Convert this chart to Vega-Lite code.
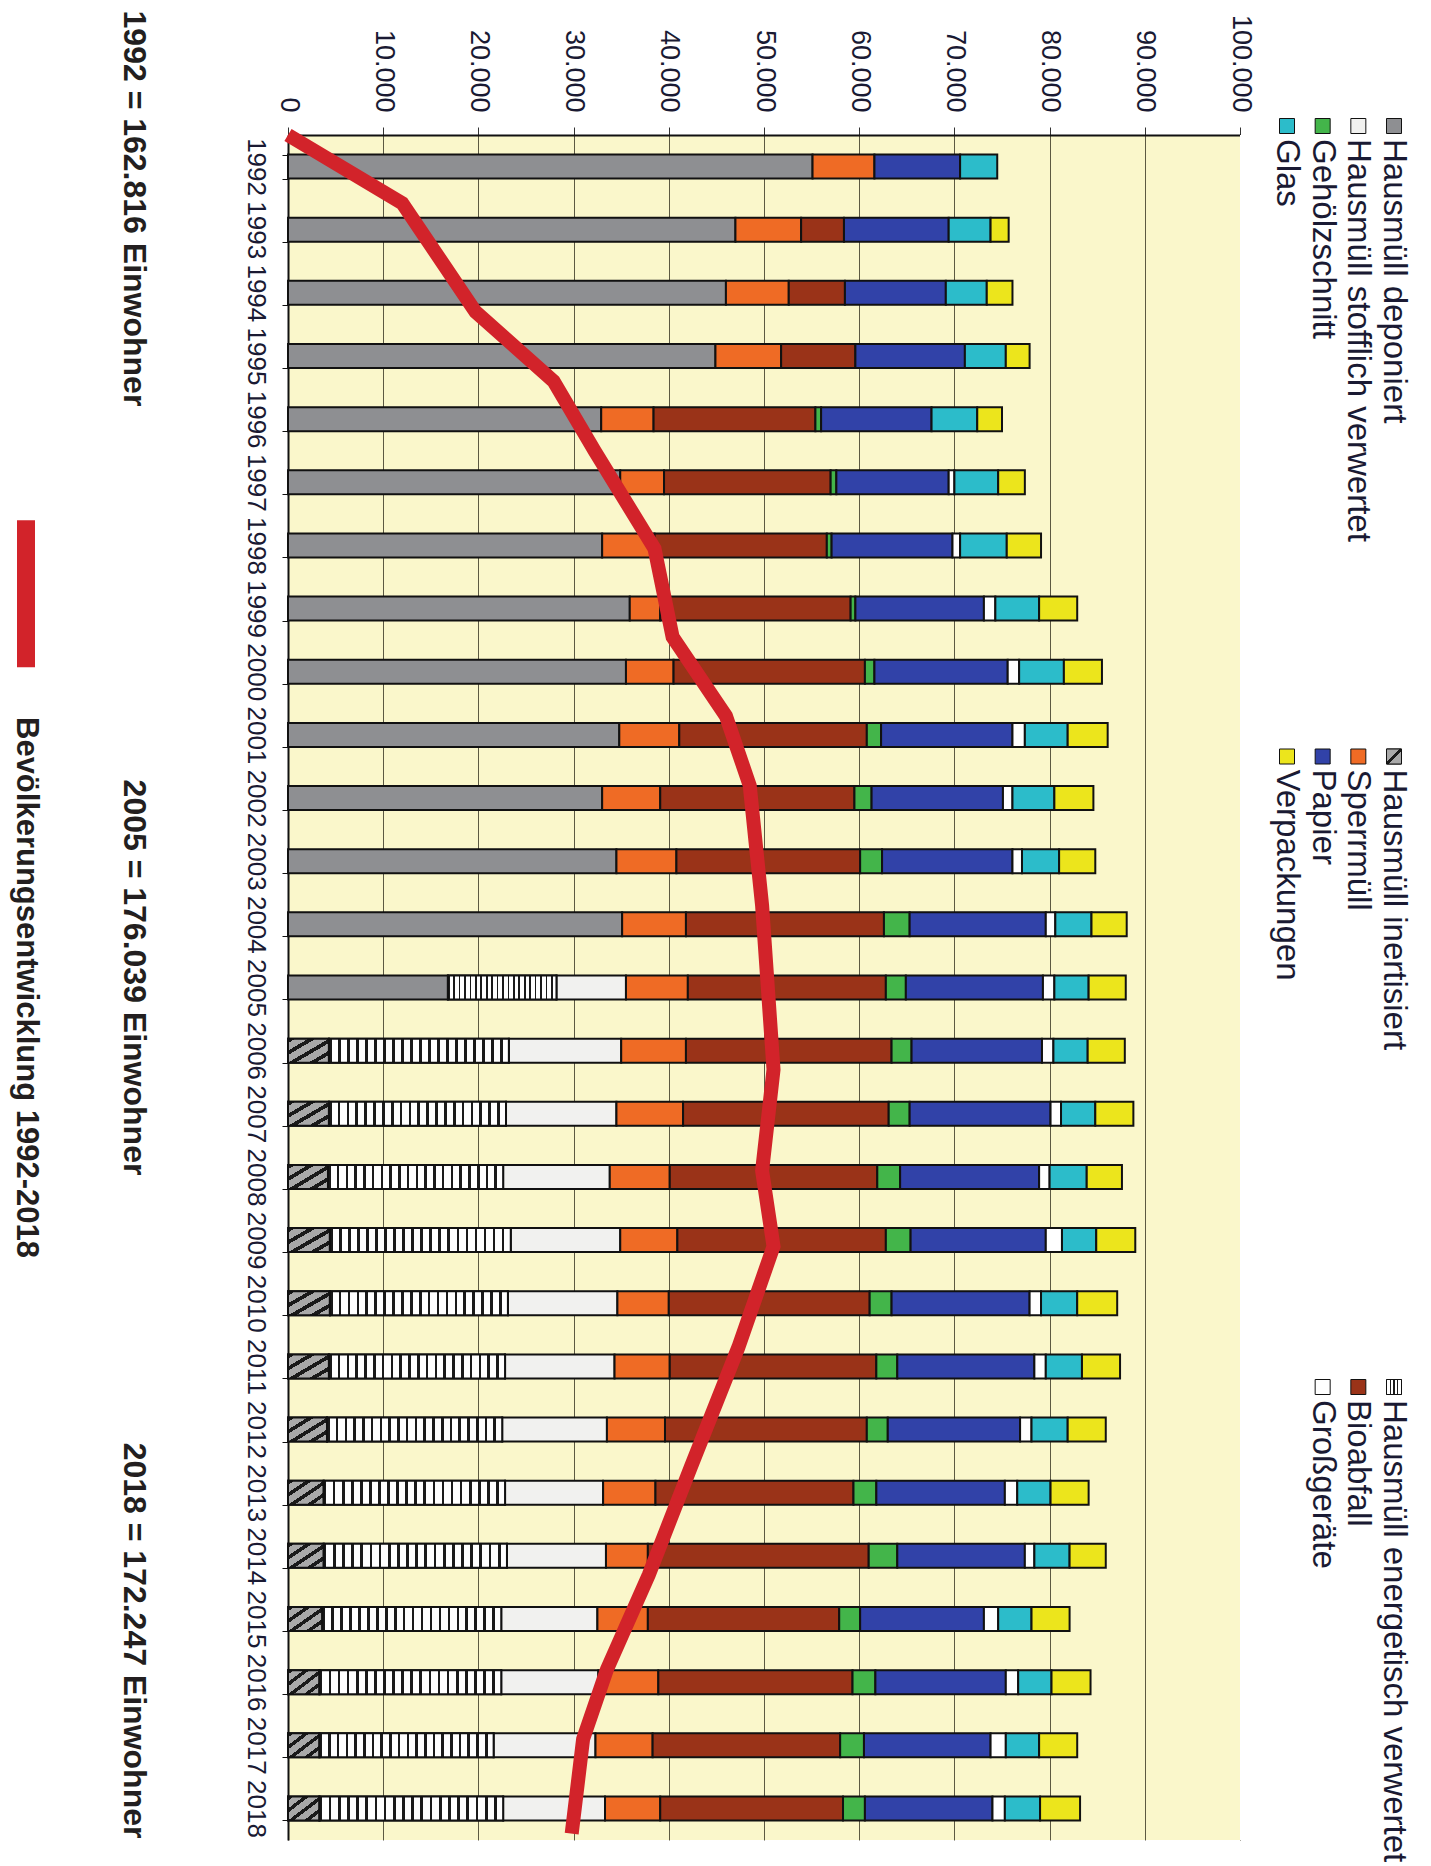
{
  "$schema": "https://vega.github.io/schema/vega-lite/v6.json",
  "padding": {"left": 0, "top": 10, "right": 0, "bottom": 0},
  "background": "white",
  "config": {"font": "Liberation Sans", "view": {"stroke": null}},
  "bounds": "flush",
  "spacing": 0,
  "resolve": {"scale": {"x": "independent", "y": "independent", "color": "shared"}},
  "datasets": {
    "abfall": [
      {"Jahr": 1992, "Hausmüll deponiert": 55100, "Sperrmüll": 6500, "Papier": 9000, "Glas": 3900},
      {"Jahr": 1993, "Hausmüll deponiert": 47000, "Sperrmüll": 6900, "Bioabfall": 4500, "Papier": 11000, "Glas": 4400, "Verpackungen": 1900},
      {"Jahr": 1994, "Hausmüll deponiert": 46000, "Sperrmüll": 6600, "Bioabfall": 5900, "Papier": 10600, "Glas": 4300, "Verpackungen": 2700},
      {"Jahr": 1995, "Hausmüll deponiert": 44900, "Sperrmüll": 6900, "Bioabfall": 7800, "Papier": 11500, "Glas": 4300, "Verpackungen": 2500},
      {"Jahr": 1996, "Hausmüll deponiert": 32900, "Sperrmüll": 5500, "Bioabfall": 17000, "Gehölzschnitt": 600, "Papier": 11600, "Glas": 4800, "Verpackungen": 2600},
      {"Jahr": 1997, "Hausmüll deponiert": 34900, "Sperrmüll": 4600, "Bioabfall": 17500, "Gehölzschnitt": 600, "Papier": 11800, "Großgeräte": 600, "Glas": 4600, "Verpackungen": 2800},
      {"Jahr": 1998, "Hausmüll deponiert": 33000, "Sperrmüll": 5500, "Bioabfall": 18100, "Gehölzschnitt": 500, "Papier": 12700, "Großgeräte": 800, "Glas": 4900, "Verpackungen": 3600},
      {"Jahr": 1999, "Hausmüll deponiert": 35900, "Sperrmüll": 3200, "Bioabfall": 20000, "Gehölzschnitt": 500, "Papier": 13500, "Großgeräte": 1200, "Glas": 4600, "Verpackungen": 4000},
      {"Jahr": 2000, "Hausmüll deponiert": 35500, "Sperrmüll": 5000, "Bioabfall": 20100, "Gehölzschnitt": 1000, "Papier": 14000, "Großgeräte": 1200, "Glas": 4700, "Verpackungen": 4000},
      {"Jahr": 2001, "Hausmüll deponiert": 34800, "Sperrmüll": 6300, "Bioabfall": 19700, "Gehölzschnitt": 1500, "Papier": 13800, "Großgeräte": 1300, "Glas": 4500, "Verpackungen": 4200},
      {"Jahr": 2002, "Hausmüll deponiert": 33000, "Sperrmüll": 6100, "Bioabfall": 20400, "Gehölzschnitt": 1800, "Papier": 13800, "Großgeräte": 1000, "Glas": 4400, "Verpackungen": 4100},
      {"Jahr": 2003, "Hausmüll deponiert": 34500, "Sperrmüll": 6300, "Bioabfall": 19300, "Gehölzschnitt": 2300, "Papier": 13700, "Großgeräte": 1000, "Glas": 3900, "Verpackungen": 3800},
      {"Jahr": 2004, "Hausmüll deponiert": 35100, "Sperrmüll": 6700, "Bioabfall": 20800, "Gehölzschnitt": 2700, "Papier": 14300, "Großgeräte": 1000, "Glas": 3800, "Verpackungen": 3700},
      {"Jahr": 2005, "Hausmüll deponiert": 16800, "Hausmüll energetisch verwertet": 11400, "Hausmüll stofflich verwertet": 7300, "Sperrmüll": 6500, "Bioabfall": 20800, "Gehölzschnitt": 2100, "Papier": 14400, "Großgeräte": 1200, "Glas": 3600, "Verpackungen": 3900},
      {"Jahr": 2006, "Hausmüll inertisiert": 4300, "Hausmüll energetisch verwertet": 18900, "Hausmüll stofflich verwertet": 11800, "Sperrmüll": 6800, "Bioabfall": 21600, "Gehölzschnitt": 2100, "Papier": 13700, "Großgeräte": 1200, "Glas": 3600, "Verpackungen": 3900},
      {"Jahr": 2007, "Hausmüll inertisiert": 4300, "Hausmüll energetisch verwertet": 18600, "Hausmüll stofflich verwertet": 11600, "Sperrmüll": 7000, "Bioabfall": 21600, "Gehölzschnitt": 2200, "Papier": 14800, "Großgeräte": 1100, "Glas": 3600, "Verpackungen": 4000},
      {"Jahr": 2008, "Hausmüll inertisiert": 4200, "Hausmüll energetisch verwertet": 18400, "Hausmüll stofflich verwertet": 11200, "Sperrmüll": 6300, "Bioabfall": 21800, "Gehölzschnitt": 2400, "Papier": 14600, "Großgeräte": 1100, "Glas": 3900, "Verpackungen": 3700},
      {"Jahr": 2009, "Hausmüll inertisiert": 4400, "Hausmüll energetisch verwertet": 19000, "Hausmüll stofflich verwertet": 11500, "Sperrmüll": 6000, "Bioabfall": 21900, "Gehölzschnitt": 2600, "Papier": 14200, "Großgeräte": 1700, "Glas": 3600, "Verpackungen": 4100},
      {"Jahr": 2010, "Hausmüll inertisiert": 4400, "Hausmüll energetisch verwertet": 18700, "Hausmüll stofflich verwertet": 11500, "Sperrmüll": 5400, "Bioabfall": 21100, "Gehölzschnitt": 2300, "Papier": 14500, "Großgeräte": 1200, "Glas": 3800, "Verpackungen": 4200},
      {"Jahr": 2011, "Hausmüll inertisiert": 4300, "Hausmüll energetisch verwertet": 18500, "Hausmüll stofflich verwertet": 11500, "Sperrmüll": 5800, "Bioabfall": 21700, "Gehölzschnitt": 2200, "Papier": 14400, "Großgeräte": 1200, "Glas": 3800, "Verpackungen": 4000},
      {"Jahr": 2012, "Hausmüll inertisiert": 4100, "Hausmüll energetisch verwertet": 18400, "Hausmüll stofflich verwertet": 11000, "Sperrmüll": 6100, "Bioabfall": 21200, "Gehölzschnitt": 2200, "Papier": 13900, "Großgeräte": 1200, "Glas": 3800, "Verpackungen": 4000},
      {"Jahr": 2013, "Hausmüll inertisiert": 3750, "Hausmüll energetisch verwertet": 19050, "Hausmüll stofflich verwertet": 10300, "Sperrmüll": 5500, "Bioabfall": 20800, "Gehölzschnitt": 2400, "Papier": 13500, "Großgeräte": 1300, "Glas": 3500, "Verpackungen": 4000},
      {"Jahr": 2014, "Hausmüll inertisiert": 3750, "Hausmüll energetisch verwertet": 19250, "Hausmüll stofflich verwertet": 10400, "Sperrmüll": 4400, "Bioabfall": 23200, "Gehölzschnitt": 3000, "Papier": 13400, "Großgeräte": 1000, "Glas": 3700, "Verpackungen": 3800},
      {"Jahr": 2015, "Hausmüll inertisiert": 3600, "Hausmüll energetisch verwertet": 18800, "Hausmüll stofflich verwertet": 10100, "Sperrmüll": 5300, "Bioabfall": 20100, "Gehölzschnitt": 2200, "Papier": 13000, "Großgeräte": 1500, "Glas": 3500, "Verpackungen": 4000},
      {"Jahr": 2016, "Hausmüll inertisiert": 3300, "Hausmüll energetisch verwertet": 19100, "Hausmüll stofflich verwertet": 10200, "Sperrmüll": 6300, "Bioabfall": 20400, "Gehölzschnitt": 2400, "Papier": 13700, "Großgeräte": 1300, "Glas": 3500, "Verpackungen": 4100},
      {"Jahr": 2017, "Hausmüll inertisiert": 3300, "Hausmüll energetisch verwertet": 18300, "Hausmüll stofflich verwertet": 10700, "Sperrmüll": 6000, "Bioabfall": 19700, "Gehölzschnitt": 2500, "Papier": 13300, "Großgeräte": 1600, "Glas": 3500, "Verpackungen": 4000},
      {"Jahr": 2018, "Hausmüll inertisiert": 3300, "Hausmüll energetisch verwertet": 19300, "Hausmüll stofflich verwertet": 10700, "Sperrmüll": 5800, "Bioabfall": 19200, "Gehölzschnitt": 2300, "Papier": 13400, "Großgeräte": 1300, "Glas": 3700, "Verpackungen": 4200}
    ],
    "legende": [
      {"Nr": 1, "Fraktion": "Hausmüll deponiert", "Zeile": 1, "Spalte": 1},
      {"Nr": 2, "Fraktion": "Hausmüll inertisiert", "Zeile": 1, "Spalte": 2},
      {"Nr": 3, "Fraktion": "Hausmüll energetisch verwertet", "Zeile": 1, "Spalte": 3},
      {"Nr": 4, "Fraktion": "Hausmüll stofflich verwertet", "Zeile": 2, "Spalte": 1},
      {"Nr": 5, "Fraktion": "Sperrmüll", "Zeile": 2, "Spalte": 2},
      {"Nr": 6, "Fraktion": "Bioabfall", "Zeile": 2, "Spalte": 3},
      {"Nr": 7, "Fraktion": "Gehölzschnitt", "Zeile": 3, "Spalte": 1},
      {"Nr": 8, "Fraktion": "Papier", "Zeile": 3, "Spalte": 2},
      {"Nr": 9, "Fraktion": "Großgeräte", "Zeile": 3, "Spalte": 3},
      {"Nr": 10, "Fraktion": "Glas", "Zeile": 4, "Spalte": 1},
      {"Nr": 11, "Fraktion": "Verpackungen", "Zeile": 4, "Spalte": 2}
    ],
    "bevoelkerung": [
      {"Jahr": 1991.5, "Wert": 0},
      {"Jahr": 1992.58, "Wert": 12000},
      {"Jahr": 1994.3, "Wert": 19700},
      {"Jahr": 1995.4, "Wert": 27900},
      {"Jahr": 1996.5, "Wert": 32200},
      {"Jahr": 1998.05, "Wert": 38500},
      {"Jahr": 1999.45, "Wert": 40400},
      {"Jahr": 2000.7, "Wert": 46000},
      {"Jahr": 2001.8, "Wert": 48500},
      {"Jahr": 2003.7, "Wert": 49800},
      {"Jahr": 2005.0, "Wert": 50400},
      {"Jahr": 2006.3, "Wert": 51000},
      {"Jahr": 2007.9, "Wert": 49800},
      {"Jahr": 2009.1, "Wert": 51000},
      {"Jahr": 2010.7, "Wert": 47300},
      {"Jahr": 2012.6, "Wert": 42300},
      {"Jahr": 2014.3, "Wert": 37900},
      {"Jahr": 2015.8, "Wert": 33500},
      {"Jahr": 2016.9, "Wert": 31000},
      {"Jahr": 2018.4, "Wert": 29800}
    ],
    "einwohner": [
      {"Jahr": 1992, "Text": "1992 = 162.816 Einwohner"},
      {"Jahr": 2005, "Text": "2005 = 176.039 Einwohner"},
      {"Jahr": 2018, "Text": "2018 = 172.247 Einwohner"}
    ]
  },
  "hconcat": [
    {
      "width": 52,
      "height": 1705,
      "view": {"fill": "white", "stroke": null},
      "data": {"values": [{"Bezeichnung": "Bevölkerungsentwicklung 1992-2018"}]},
      "layer": [
        {
          "mark": {"type": "rule", "color": "#D2232A", "strokeWidth": 18, "strokeCap": "butt"},
          "encoding": {
            "y": {"datum": 1997.6, "type": "quantitative", "scale": {"domain": [1991.5, 2018.5], "reverse": true, "nice": false, "zero": false}, "axis": null},
            "y2": {"datum": 1999.93}
          }
        },
        {
          "mark": {"type": "text", "angle": 90, "align": "center", "baseline": "middle", "fontSize": 31, "fontWeight": "bold", "color": "#231f20"},
          "encoding": {
            "y": {"datum": 2005, "type": "quantitative"},
            "text": {"field": "Bezeichnung"}
          }
        }
      ]
    },
    {
      "width": 236,
      "height": 1705,
      "view": {"fill": "white", "stroke": null},
      "data": {"name": "einwohner"},
      "encoding": {
        "y": {"field": "Jahr", "type": "quantitative", "scale": {"domain": [1991.5, 2018.5], "reverse": true, "nice": false, "zero": false}, "axis": null},
        "text": {"field": "Text"}
      },
      "layer": [
        {
          "transform": [{"filter": "datum.Jahr == 1992"}],
          "mark": {"type": "text", "angle": 90, "align": "left", "baseline": "middle", "dx": -156, "dy": 36, "fontSize": 32, "fontWeight": "bold", "color": "#231f20"}
        },
        {
          "transform": [{"filter": "datum.Jahr == 2005"}],
          "mark": {"type": "text", "angle": 90, "align": "center", "baseline": "middle", "dx": -10, "dy": 36, "fontSize": 32, "fontWeight": "bold", "color": "#231f20"}
        },
        {
          "transform": [{"filter": "datum.Jahr == 2018"}],
          "mark": {"type": "text", "angle": 90, "align": "right", "baseline": "middle", "dx": 30, "dy": 36, "fontSize": 32, "fontWeight": "bold", "color": "#231f20"}
        }
      ]
    },
    {
      "width": 952,
      "height": 1705,
      "view": {"fill": "#FAF7CB", "stroke": null},
      "layer": [
        {
          "data": {"name": "abfall"},
          "transform": [
            {"fold": ["Hausmüll deponiert", "Hausmüll inertisiert", "Hausmüll energetisch verwertet", "Hausmüll stofflich verwertet", "Sperrmüll", "Bioabfall", "Gehölzschnitt", "Papier", "Großgeräte", "Glas", "Verpackungen"], "as": ["Fraktion", "Menge"]},
            {"filter": "datum.Menge > 0"},
            {"lookup": "Fraktion", "from": {"data": {"name": "legende"}, "key": "Fraktion", "fields": ["Nr"]}},
            {"stack": "Menge", "groupby": ["Jahr"], "sort": [{"field": "Nr", "order": "ascending"}], "as": ["Anfang", "Ende"]}
          ],
          "encoding": {
            "y": {
              "field": "Jahr", "type": "ordinal",
              "scale": {"paddingInner": 0.62, "paddingOuter": 0.31},
              "axis": {"orient": "left", "title": null, "labelAngle": 90, "labelAlign": "center", "labelBaseline": "top", "labelFontSize": 26, "labelColor": "#1a1a33", "labelPadding": 14, "labelOverlap": false, "tickBand": "extent", "tickSize": 6, "tickColor": "#111111", "domainColor": "#111111", "domainWidth": 2, "grid": false}
            },
            "x": {
              "field": "Anfang", "type": "quantitative",
              "scale": {"domain": [0, 100000], "nice": false},
              "axis": {"orient": "top", "title": null, "values": [0, 10000, 20000, 30000, 40000, 50000, 60000, 70000, 80000, 90000, 100000], "labelAngle": 90, "labelAlign": "right", "labelBaseline": "middle", "labelFontSize": 27, "labelColor": "#1a1a33", "labelPadding": 15, "labelFlush": false, "labelOverlap": false, "labelExpr": "replace(format(datum.value, ','), ',', '.')", "tickSize": 8, "tickColor": "#333333", "domainColor": "#111111", "domainWidth": 2, "grid": true, "gridColor": "#3f3d2a", "gridWidth": 1, "gridOpacity": 0.85}
            },
            "x2": {"field": "Ende"}
          },
          "layer": [
            {
              "mark": {"type": "bar", "stroke": "#111111", "strokeWidth": 2},
              "encoding": {
                "color": {
                  "field": "Fraktion", "type": "nominal", "legend": null,
                  "scale": {
                    "domain": ["Hausmüll deponiert", "Hausmüll inertisiert", "Hausmüll energetisch verwertet", "Hausmüll stofflich verwertet", "Sperrmüll", "Bioabfall", "Gehölzschnitt", "Papier", "Großgeräte", "Glas", "Verpackungen"],
                    "range": ["#8E8F92", "#A9A9A9", "#FFFFFF", "#F1F1EF", "#EF6B25", "#9A3318", "#43B54A", "#3142A8", "#FFFFFF", "#2CBCCA", "#ECE51C"]
                  }
                }
              }
            },
            {
              "transform": [{"filter": "datum.Fraktion == 'Hausmüll inertisiert'"}],
              "mark": {
                "type": "bar", "stroke": "#111111", "strokeWidth": 2,
                "fill": {"gradient": "linear", "x1": 0, "y1": 0, "x2": 1, "y2": 1, "stops": [
                  {"offset": 0, "color": "#1a1a1a"}, {"offset": 0.09, "color": "#1a1a1a"}, {"offset": 0.09, "color": "#a9a9a9"}, {"offset": 0.25, "color": "#a9a9a9"},
                  {"offset": 0.25, "color": "#1a1a1a"}, {"offset": 0.34, "color": "#1a1a1a"}, {"offset": 0.34, "color": "#a9a9a9"}, {"offset": 0.5, "color": "#a9a9a9"},
                  {"offset": 0.5, "color": "#1a1a1a"}, {"offset": 0.59, "color": "#1a1a1a"}, {"offset": 0.59, "color": "#a9a9a9"}, {"offset": 0.75, "color": "#a9a9a9"},
                  {"offset": 0.75, "color": "#1a1a1a"}, {"offset": 0.84, "color": "#1a1a1a"}, {"offset": 0.84, "color": "#a9a9a9"}, {"offset": 1, "color": "#a9a9a9"}
                ]}
              }
            },
            {
              "transform": [{"filter": "datum.Fraktion == 'Hausmüll energetisch verwertet'"}],
              "mark": {
                "type": "bar", "stroke": "#111111", "strokeWidth": 2,
                "fill": {"gradient": "linear", "x1": 0, "y1": 0, "x2": 1, "y2": 0, "stops": [
                  {"offset": 0, "color": "#1a1a1a"}, {"offset": 0.015, "color": "#1a1a1a"}, {"offset": 0.015, "color": "#ffffff"}, {"offset": 0.05, "color": "#ffffff"},
                  {"offset": 0.05, "color": "#1a1a1a"}, {"offset": 0.065, "color": "#1a1a1a"}, {"offset": 0.065, "color": "#ffffff"}, {"offset": 0.1, "color": "#ffffff"},
                  {"offset": 0.1, "color": "#1a1a1a"}, {"offset": 0.115, "color": "#1a1a1a"}, {"offset": 0.115, "color": "#ffffff"}, {"offset": 0.15, "color": "#ffffff"},
                  {"offset": 0.15, "color": "#1a1a1a"}, {"offset": 0.165, "color": "#1a1a1a"}, {"offset": 0.165, "color": "#ffffff"}, {"offset": 0.2, "color": "#ffffff"},
                  {"offset": 0.2, "color": "#1a1a1a"}, {"offset": 0.215, "color": "#1a1a1a"}, {"offset": 0.215, "color": "#ffffff"}, {"offset": 0.25, "color": "#ffffff"},
                  {"offset": 0.25, "color": "#1a1a1a"}, {"offset": 0.265, "color": "#1a1a1a"}, {"offset": 0.265, "color": "#ffffff"}, {"offset": 0.3, "color": "#ffffff"},
                  {"offset": 0.3, "color": "#1a1a1a"}, {"offset": 0.315, "color": "#1a1a1a"}, {"offset": 0.315, "color": "#ffffff"}, {"offset": 0.35, "color": "#ffffff"},
                  {"offset": 0.35, "color": "#1a1a1a"}, {"offset": 0.365, "color": "#1a1a1a"}, {"offset": 0.365, "color": "#ffffff"}, {"offset": 0.4, "color": "#ffffff"},
                  {"offset": 0.4, "color": "#1a1a1a"}, {"offset": 0.415, "color": "#1a1a1a"}, {"offset": 0.415, "color": "#ffffff"}, {"offset": 0.45, "color": "#ffffff"},
                  {"offset": 0.45, "color": "#1a1a1a"}, {"offset": 0.465, "color": "#1a1a1a"}, {"offset": 0.465, "color": "#ffffff"}, {"offset": 0.5, "color": "#ffffff"},
                  {"offset": 0.5, "color": "#1a1a1a"}, {"offset": 0.515, "color": "#1a1a1a"}, {"offset": 0.515, "color": "#ffffff"}, {"offset": 0.55, "color": "#ffffff"},
                  {"offset": 0.55, "color": "#1a1a1a"}, {"offset": 0.565, "color": "#1a1a1a"}, {"offset": 0.565, "color": "#ffffff"}, {"offset": 0.6, "color": "#ffffff"},
                  {"offset": 0.6, "color": "#1a1a1a"}, {"offset": 0.615, "color": "#1a1a1a"}, {"offset": 0.615, "color": "#ffffff"}, {"offset": 0.65, "color": "#ffffff"},
                  {"offset": 0.65, "color": "#1a1a1a"}, {"offset": 0.665, "color": "#1a1a1a"}, {"offset": 0.665, "color": "#ffffff"}, {"offset": 0.7, "color": "#ffffff"},
                  {"offset": 0.7, "color": "#1a1a1a"}, {"offset": 0.715, "color": "#1a1a1a"}, {"offset": 0.715, "color": "#ffffff"}, {"offset": 0.75, "color": "#ffffff"},
                  {"offset": 0.75, "color": "#1a1a1a"}, {"offset": 0.765, "color": "#1a1a1a"}, {"offset": 0.765, "color": "#ffffff"}, {"offset": 0.8, "color": "#ffffff"},
                  {"offset": 0.8, "color": "#1a1a1a"}, {"offset": 0.815, "color": "#1a1a1a"}, {"offset": 0.815, "color": "#ffffff"}, {"offset": 0.85, "color": "#ffffff"},
                  {"offset": 0.85, "color": "#1a1a1a"}, {"offset": 0.865, "color": "#1a1a1a"}, {"offset": 0.865, "color": "#ffffff"}, {"offset": 0.9, "color": "#ffffff"},
                  {"offset": 0.9, "color": "#1a1a1a"}, {"offset": 0.915, "color": "#1a1a1a"}, {"offset": 0.915, "color": "#ffffff"}, {"offset": 0.95, "color": "#ffffff"},
                  {"offset": 0.95, "color": "#1a1a1a"}, {"offset": 0.965, "color": "#1a1a1a"}, {"offset": 0.965, "color": "#ffffff"}, {"offset": 1, "color": "#ffffff"}
                ]}
              }
            }
          ]
        },
        {
          "data": {"name": "bevoelkerung"},
          "mark": {"type": "line", "color": "#D2232A", "strokeWidth": 14, "strokeJoin": "miter", "strokeCap": "butt"},
          "encoding": {
            "y": {"field": "Jahr", "type": "quantitative", "scale": {"domain": [1991.5, 2018.5], "reverse": true, "nice": false, "zero": false}, "axis": null},
            "x": {
              "field": "Wert", "type": "quantitative",
              "scale": {"domain": [0, 100000], "nice": false},
              "axis": {"orient": "top", "title": null, "values": [0, 10000, 20000, 30000, 40000, 50000, 60000, 70000, 80000, 90000, 100000], "labelAngle": 90, "labelAlign": "right", "labelBaseline": "middle", "labelFontSize": 27, "labelColor": "#1a1a33", "labelPadding": 15, "labelFlush": false, "labelOverlap": false, "labelExpr": "replace(format(datum.value, ','), ',', '.')", "tickSize": 8, "tickColor": "#333333", "domainColor": "#111111", "domainWidth": 2, "grid": true, "gridColor": "#3f3d2a", "gridWidth": 1, "gridOpacity": 0.85}
            },
            "order": {"field": "Jahr", "type": "quantitative"}
          }
        }
      ],
      "resolve": {"scale": {"y": "independent"}, "axis": {"y": "independent"}}
    },
    {
      "width": 191,
      "height": 1705,
      "view": {"fill": "white", "stroke": null},
      "data": {"name": "legende"},
      "encoding": {
        "x": {"field": "Zeile", "type": "quantitative", "scale": {"domain": [1, 4], "range": [154, 47], "nice": false, "zero": false}, "axis": null},
        "y": {"field": "Spalte", "type": "quantitative", "scale": {"domain": [1, 3], "range": [-9, 1252], "nice": false, "zero": false}, "axis": null}
      },
      "layer": [
        {
          "mark": {"type": "point", "shape": "square", "filled": true, "size": 225, "stroke": "#111111", "strokeWidth": 1, "opacity": 1},
          "encoding": {"color": {"field": "Fraktion", "type": "nominal", "legend": null}}
        },
        {
          "transform": [{"filter": "datum.Fraktion == 'Hausmüll inertisiert'"}],
          "mark": {
            "type": "point", "shape": "square", "size": 225, "stroke": "#111111", "strokeWidth": 1, "opacity": 1,
            "fill": {"gradient": "linear", "x1": 0, "y1": 0, "x2": 1, "y2": 1, "stops": [
              {"offset": 0, "color": "#a9a9a9"}, {"offset": 0.42, "color": "#a9a9a9"}, {"offset": 0.42, "color": "#1a1a1a"}, {"offset": 0.58, "color": "#1a1a1a"}, {"offset": 0.58, "color": "#a9a9a9"}, {"offset": 1, "color": "#a9a9a9"}
            ]}
          }
        },
        {
          "transform": [{"filter": "datum.Fraktion == 'Hausmüll energetisch verwertet'"}],
          "mark": {
            "type": "point", "shape": "square", "size": 225, "stroke": "#111111", "strokeWidth": 1, "opacity": 1,
            "fill": {"gradient": "linear", "x1": 0, "y1": 0, "x2": 1, "y2": 0, "stops": [
              {"offset": 0, "color": "#ffffff"}, {"offset": 0.22, "color": "#ffffff"}, {"offset": 0.22, "color": "#1a1a1a"}, {"offset": 0.3, "color": "#1a1a1a"}, {"offset": 0.3, "color": "#ffffff"},
              {"offset": 0.46, "color": "#ffffff"}, {"offset": 0.46, "color": "#1a1a1a"}, {"offset": 0.54, "color": "#1a1a1a"}, {"offset": 0.54, "color": "#ffffff"},
              {"offset": 0.7, "color": "#ffffff"}, {"offset": 0.7, "color": "#1a1a1a"}, {"offset": 0.78, "color": "#1a1a1a"}, {"offset": 0.78, "color": "#ffffff"}, {"offset": 1, "color": "#ffffff"}
            ]}
          }
        },
        {
          "mark": {"type": "text", "angle": 90, "align": "left", "baseline": "middle", "dx": 13, "fontSize": 33, "color": "#1a1a33"},
          "encoding": {"text": {"field": "Fraktion"}}
        }
      ]
    }
  ]
}
